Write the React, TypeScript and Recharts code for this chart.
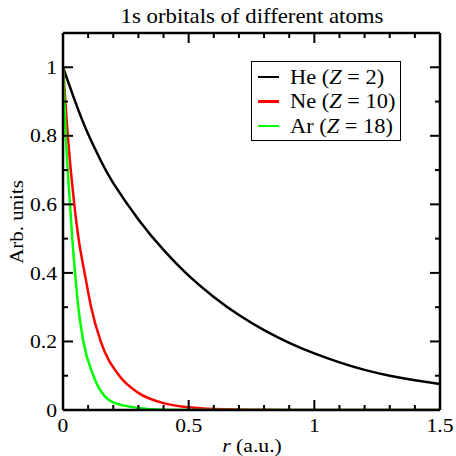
import { LineChart, Line, XAxis, YAxis, Legend } from 'recharts'

// radial distance r (a.u.) and orbital amplitude
const rHe = [0, 0.05, 0.1, 0.15, 0.2, 0.3, 0.4, 0.5, 0.6, 0.7, 0.8, 0.9, 1.0, 1.1, 1.2, 1.3, 1.4, 1.5]
const psiHe = [1, 0.897, 0.805, 0.728, 0.662, 0.556, 0.467, 0.392, 0.33, 0.277, 0.233, 0.196, 0.165, 0.139, 0.117, 0.1, 0.087, 0.076]

const rNe = [0, 0.019, 0.045, 0.062, 0.086, 0.112, 0.15, 0.224, 0.3, 0.4, 0.5, 0.6, 0.8, 1.0, 1.5]
const psiNe = [1, 0.8, 0.6, 0.5, 0.4, 0.3, 0.2, 0.1, 0.05, 0.02, 0.008, 0.003, 0.0005, 0.0001, 0]

const rAr = [0, 0.011, 0.028, 0.037, 0.048, 0.061, 0.081, 0.121, 0.2, 0.3, 0.4, 0.6, 1.0, 1.5]
const psiAr = [1, 0.8, 0.6, 0.5, 0.4, 0.3, 0.2, 0.1, 0.022, 0.006, 0.001, 0.0001, 0, 0]

const atoms = ['He', 'Ne', 'Ar']
const zValues = [2, 10, 18]
const colors = ['#000000', '#ff0000', '#00ff00']
const curveTypes = ['natural', 'monotone', 'monotone'] as const

const xTicks = [0, 0.1, 0.2, 0.3, 0.4, 0.5, 0.6, 0.7, 0.8, 0.9, 1, 1.1, 1.2, 1.3, 1.4, 1.5]
const xLabels = [0, 0.5, 1, 1.5]
const yTicks = [0, 0.1, 0.2, 0.3, 0.4, 0.5, 0.6, 0.7, 0.8, 0.9, 1]
const yLabels = [0, 0.2, 0.4, 0.6, 0.8, 1]

const FONT = '"Liberation Serif", "Times New Roman", serif'
const MAJOR = 10
const MINOR = 5
// the original's lettering is a bit wider than Times
const STRETCH = 1.14

const toPoints = (r: number[], psi: number[]) => r.map((x, i) => ({ r: x, psi: psi[i] }))
const series = [toPoints(rHe, psiHe), toPoints(rNe, psiNe), toPoints(rAr, psiAr)]

// inward tick marks, plus a label on the major ones
function makeTick(side: 'bottom' | 'top' | 'left' | 'right') {
  return (props: any) => {
    const { x, y, payload } = props
    const v = payload.value as number
    const labels = side === 'bottom' || side === 'top' ? xLabels : yLabels
    const major = labels.includes(v)
    const len = major ? MAJOR : MINOR
    let line
    if (side === 'bottom') line = <line x1={x} x2={x} y1={y} y2={y - len} />
    else if (side === 'top') line = <line x1={x} x2={x} y1={y} y2={y + len} />
    else if (side === 'left') line = <line x1={x} x2={x + len} y1={y} y2={y} />
    else line = <line x1={x} x2={x - len} y1={y} y2={y} />
    return (
      <g stroke="#000" strokeWidth={2}>
        {line}
        {major && side === 'bottom' && (
          <text
            transform={`translate(${x}, ${y + 22}) scale(${STRETCH}, 1)`}
            textAnchor="middle"
            stroke="none"
            fill="#000"
            fontSize={19}
            fontFamily={FONT}
          >
            {String(v)}
          </text>
        )}
        {major && side === 'left' && (
          <text
            transform={`translate(${x - 6}, ${y}) scale(${STRETCH}, 1)`}
            dy="0.35em"
            textAnchor="end"
            stroke="none"
            fill="#000"
            fontSize={19}
            fontFamily={FONT}
          >
            {String(v)}
          </text>
        )}
      </g>
    )
  }
}

function LegendBox() {
  return (
    <div
      style={{
        position: 'relative',
        width: 150,
        height: 80,
        boxSizing: 'border-box',
        border: '1.5px solid #000',
        background: '#fff',
        fontFamily: FONT,
        fontSize: 20,
        color: '#000',
      }}
    >
      {atoms.map((a, i) => (
        <div
          key={a}
          style={{ position: 'absolute', left: 6, top: 3 + i * 24.5, height: 24, display: 'flex', alignItems: 'center', whiteSpace: 'nowrap' }}
        >
          <span style={{ display: 'inline-block', width: 21, height: 2.5, background: colors[i], marginRight: 11 }} />
          <span style={{ display: 'inline-block', transform: 'scaleX(1.12)', transformOrigin: 'left center' }}>
            {a} (<i>Z</i> = {zValues[i]})
          </span>
        </div>
      ))}
    </div>
  )
}

export default function App() {
  return (
    <div style={{ position: 'absolute', left: 0, top: 0, width: 456, height: 456, background: '#fff' }}>
      <LineChart width={456} height={456} data={series[0]} margin={{ top: 32, right: 15, bottom: 0, left: 0 }}>
        <XAxis
          xAxisId="b"
          type="number"
          dataKey="r"
          domain={[0, 1.5]}
          ticks={xTicks}
          interval={0}
          height={46}
          tickSize={0}
          tickMargin={0}
          tickLine={false}
          axisLine={{ stroke: '#000', strokeWidth: 2.5 }}
          tick={makeTick('bottom')}
          allowDataOverflow
        />
        <XAxis
          xAxisId="t"
          orientation="top"
          type="number"
          dataKey="r"
          domain={[0, 1.5]}
          ticks={xTicks}
          interval={0}
          height={1}
          tickSize={0}
          tickMargin={0}
          tickLine={false}
          axisLine={{ stroke: '#000', strokeWidth: 2.5 }}
          tick={makeTick('top')}
          allowDataOverflow
        />
        <YAxis
          yAxisId="l"
          type="number"
          domain={[0, 1.1]}
          ticks={yTicks}
          interval={0}
          width={63}
          tickSize={0}
          tickMargin={0}
          tickLine={false}
          axisLine={{ stroke: '#000', strokeWidth: 2.5 }}
          tick={makeTick('left')}
          allowDataOverflow
        />
        <YAxis
          yAxisId="r"
          orientation="right"
          type="number"
          domain={[0, 1.1]}
          ticks={yTicks}
          interval={0}
          width={1}
          tickSize={0}
          tickMargin={0}
          tickLine={false}
          axisLine={{ stroke: '#000', strokeWidth: 2.5 }}
          tick={makeTick('right')}
          allowDataOverflow
        />
        {series.map((d, i) => (
          <Line
            key={atoms[i]}
            xAxisId="b"
            yAxisId="l"
            data={d}
            dataKey="psi"
            name={atoms[i]}
            type={curveTypes[i]}
            stroke={colors[i]}
            strokeWidth={2.5}
            dot={false}
            isAnimationActive={false}
          />
        ))}
        <Legend
          layout="vertical"
          align="center"
          verticalAlign="middle"
          wrapperStyle={{ left: 251, top: 61, width: 150, height: 80 }}
          content={() => <LegendBox />}
        />
        <text transform={`translate(252, 23) scale(${STRETCH}, 1)`} textAnchor="middle" fontSize={20} fontFamily={FONT} fill="#000">
          1s orbitals of different atoms
        </text>
        <text transform={`translate(252, 452) scale(${STRETCH}, 1)`} textAnchor="middle" fontSize={19} fontFamily={FONT} fill="#000">
          <tspan fontStyle="italic">r</tspan> (a.u.)
        </text>
        <text transform={`translate(23, 222) rotate(-90) scale(1.1, 1)`} textAnchor="middle" fontSize={19} fontFamily={FONT} fill="#000">
          Arb. units
        </text>
      </LineChart>
    </div>
  )
}
